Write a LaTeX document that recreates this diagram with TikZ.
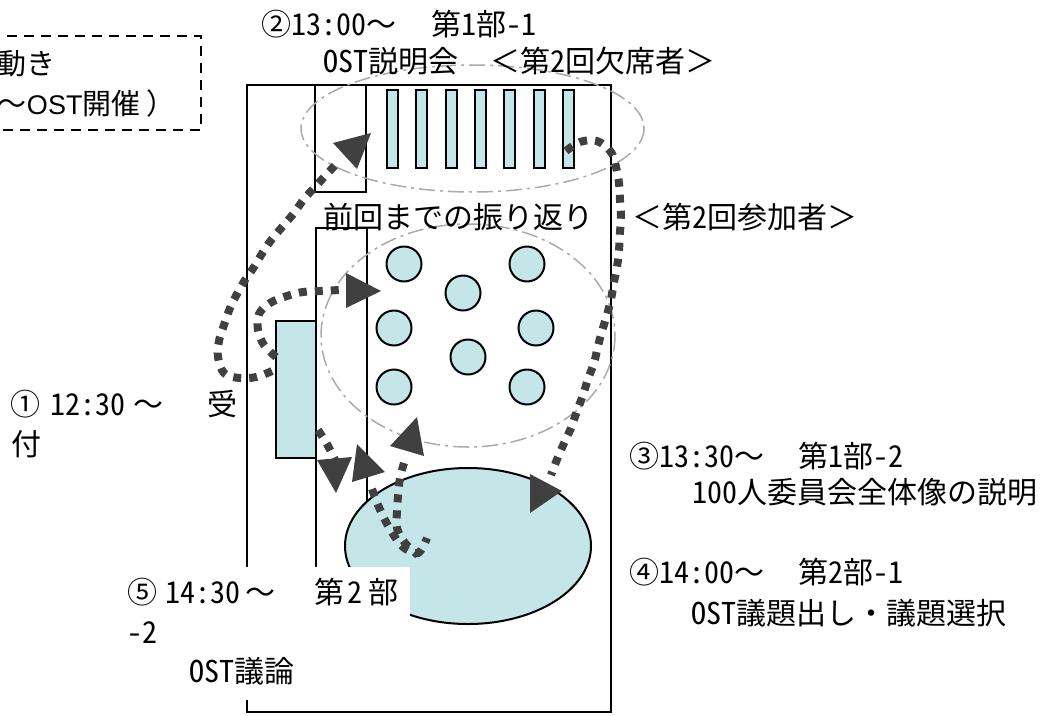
\documentclass[tikz,border=0pt]{standalone}
\usepackage{fontspec}
\newfontfamily\jp{Noto Sans CJK JP}
\newfontfamily\jph[RawFeature=+hwid]{Noto Sans CJK JP}
\newfontfamily\ar{Liberation Sans}
\newcommand{\hw}[1]{{\jph #1}}
\definecolor{pale}{RGB}{197,230,232}
\definecolor{dk}{RGB}{64,64,64}
\definecolor{gr}{RGB}{170,170,170}
\tikzset{
 blk/.style={draw=black,line width=2pt},
 seat/.style={draw=black,fill=pale,line width=2pt},
 zone/.style={draw=gr,line width=1.5pt,dash pattern=on 16pt off 5pt on 3pt off 5pt},
 route/.style={draw=dk,line width=8pt,dash pattern=on 8pt off 8pt},
 head/.style={fill=dk,draw=none},
 lbl/.style={anchor=base west,inner sep=0pt,outer sep=0pt,font=\jp\fontsize{30}{30}\selectfont},
 lblb/.style={anchor=base west,inner sep=0pt,outer sep=0pt,font=\jp\fontsize{29}{29}\selectfont}
}
\begin{document}
\begin{tikzpicture}[x=1pt,y=-1pt]
\useasboundingbox (0,0) rectangle (1056,715);
\clip (0,0) rectangle (1056,715);
% note frame
\draw[draw=black,line width=2pt,dash pattern=on 10pt off 7pt] (-10,36) -- (201,36) -- (201,130) -- (-10,130);
\node[lblb] (n0a) at (-2,74) {動き};
\node[lblb] (n0b) at (-2,114) {～{\ar\fontsize{27}{27}\selectfont OST}開催};
\node[lblb] (n0c) at (146,114) {）};
% room
\draw[blk] (247,85) rectangle (611,712);
\draw[blk] (315,85) rectangle (366,192);
\draw[blk] (316,228) rectangle (367,620);
\draw[seat] (276,321) rectangle (316,458);
\foreach \x in {387,416,446,475,504,534,563}
  \draw[seat] (\x,90) rectangle +(11,78);
\foreach \p in {(404,264),(394,328),(394,387),(527,264),(463,293),(536,328),(468,357),(527,387)}
  \draw[seat] \p circle (17.5);
\draw[zone] (472.5,128.5) ellipse (171.5 and 63.5);
\draw[zone] (468,335.5) ellipse (147 and 111.5);
\draw[draw=black,fill=pale,line width=2pt] (468,546) ellipse (123 and 78);
% routes
\draw[route] plot[smooth,tension=0.6] coordinates {(272,371)(256,377)(239,378)(224,373)(218,357)(219,341)(224,325)(230,308)(237,294)(245,280)(254,267)(263,252)(272,239)(283,226)(294,213)(304,199)(315,187)(326,175)(340,160)};
\fill[head] (371,133) -- (333,143) -- (357,169) -- cycle;
\draw[route] plot[smooth,tension=0.6] coordinates {(276,357)(264,345)(258,330)(259,314)(270,303)(287,296)(303,292)(320,291)(340,290)};
\fill[head] (381,291) -- (346,273) -- (346,308) -- cycle;
\draw[route] plot[smooth,tension=0.6] coordinates {(566,151)(580,142)(597,141)(611,152)(616,167)(619,183)(620,200)(621,216)(620,232)(619,250)(617,267)(614,282)(611,299)(607,315)(602,331)(598,346)(594,363)(588,379)(583,395)(577,411)(571,428)(565,441)(558,457)(551,475)};
\fill[head] (530,513) -- (530,474) -- (562,491) -- cycle;
\draw[route] plot[smooth,tension=0.6] coordinates {(318,430)(327,444)(335,460)};
\fill[head] (336,493) -- (317,460) -- (352,457) -- cycle;
\draw[route] plot[smooth,tension=0.6] coordinates {(404,463)(400,478)(398,496)(397,512)(397,528)(405,543)(418,555)};
\fill[head] (417,417) -- (390,446) -- (424,456) -- cycle;
\draw[route] plot[smooth,tension=0.6] coordinates {(372,489)(378,505)(385,520)(393,534)(403,547)(418,553)(427,538)};
\fill[head] (385,472) -- (357,444) -- (352,482) -- cycle;
% label patch
\fill[white] (120,567) rectangle (410,700);
% labels
\node[lbl] (n2a) at (261,35) {②\hw{13:00}～};
\node[lbl] (n2c) at (431,35) {第\hw{1}部\hw{-1}};
\node[lbl] (n2b) at (323,72) {\hw{OST}説明会};
\node[lbl] (n2d) at (490,72) {＜第\hw{2}回欠席者＞};
\node[lbl] (n6) at (323,228) {前回までの振り返り};
\node[lbl] (n7) at (632,228) {＜第\hw{2}回参加者＞};
\node[lbl] (n3a) at (629,467) {③\hw{13:30}～};
\node[lbl] (n3c) at (798,467) {第\hw{1}部\hw{-2}};
\node[lbl] (n3b) at (692,503) {\hw{100}人委員会全体像の説明};
\node[lbl] (n4a) at (629,583) {④\hw{14:00}～};
\node[lbl] (n4c) at (798,583) {第\hw{2}部\hw{-1}};
\node[lbl] (n4b) at (691,624) {\hw{OST}議題出し・議題選択};
\node[lbl] (n1a) at (10,415) {①};
\node[lbl] (n1d) at (50,415) {\hw{12:30}};
\node[lbl] (n1e) at (133,415) {～};
\node[lbl] (n1b) at (207,415) {受};
\node[lbl] (n1c) at (11,455) {付};
\node[lbl] (n5a) at (127,603) {⑤};
\node[lbl] (n5e) at (165,603) {\hw{14:30}};
\node[lbl] (n5f) at (245,603) {～};
\node[lbl] (n5b) at (314,603) {第};
\node[lbl] (n5g) at (347,603) {\hw{2}};
\node[lbl] (n5h) at (368,603) {部};
\node[lbl] (n5c) at (127,643) {\hw{-2}};
\node[lbl] (n5d) at (189,682) {\hw{OST}議論};
\end{tikzpicture}
\end{document}
